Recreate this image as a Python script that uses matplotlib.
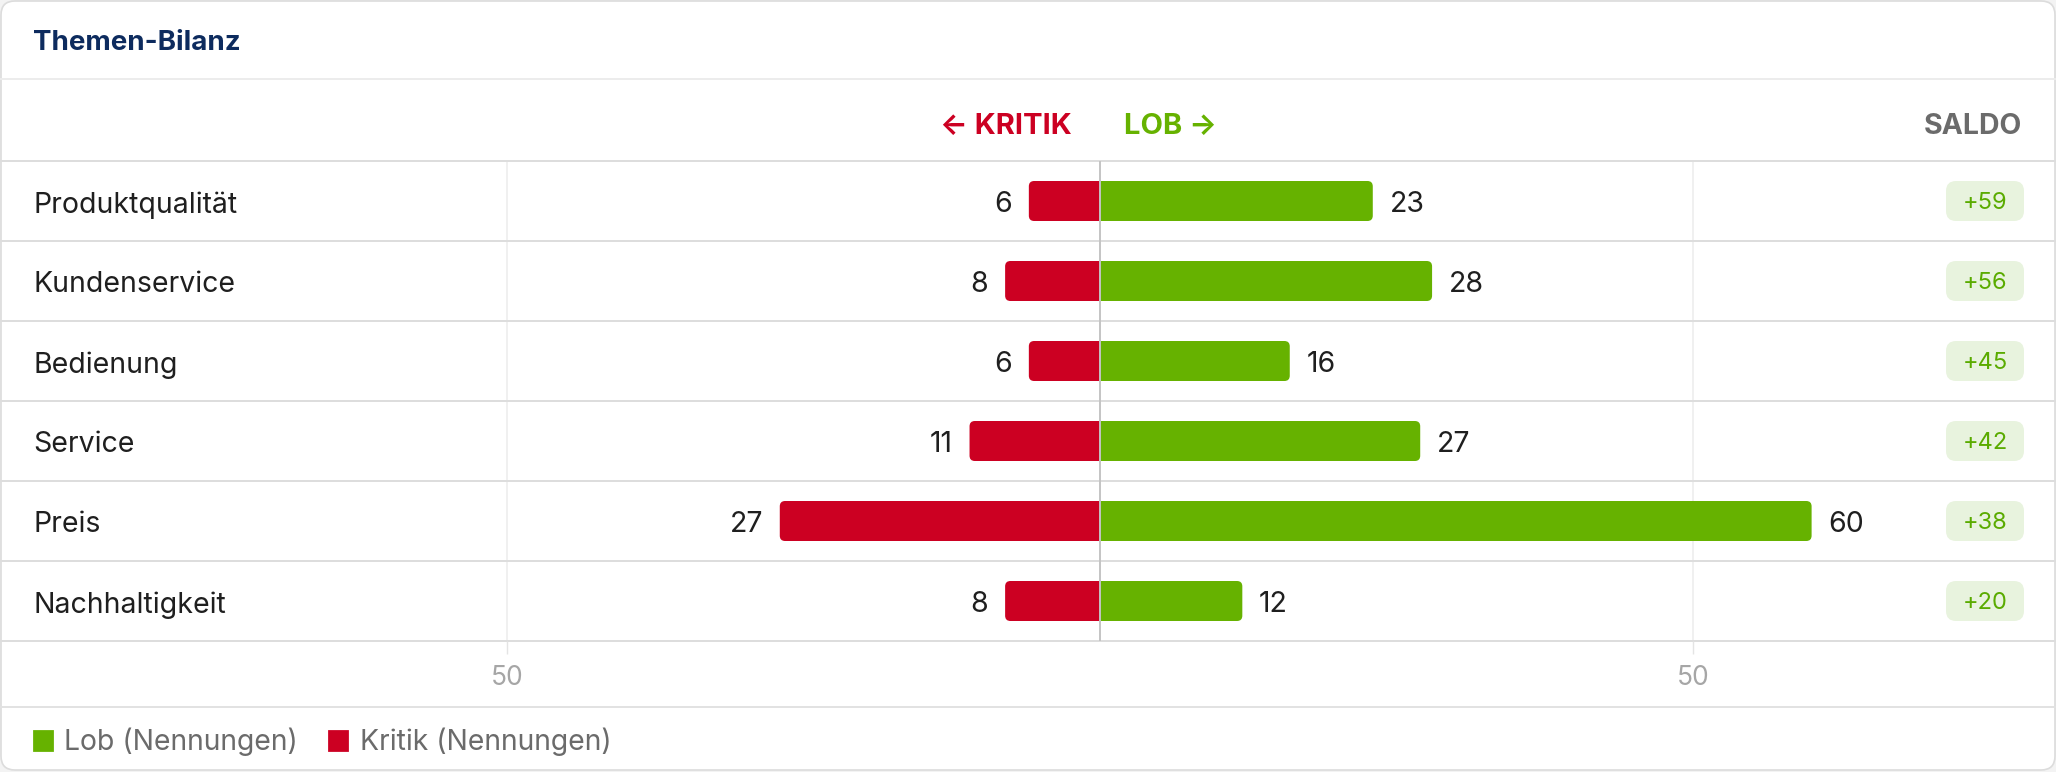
import numpy as np
import matplotlib.pyplot as plt
from matplotlib.patches import FancyBboxPatch, Rectangle, Patch
from matplotlib.lines import Line2D
from matplotlib.transforms import blended_transform_factory, IdentityTransform

plt.rcParams['font.family'] = ['Inter', 'DejaVu Sans']

# data
themen = ['Produktqualität', 'Kundenservice', 'Bedienung', 'Service', 'Preis', 'Nachhaltigkeit']
lob = [23, 28, 16, 27, 60, 12]
kritik = [6, 8, 6, 11, 27, 8]
saldo = [59, 56, 45, 42, 38, 20]
ticks = [-50, 50]
tick_labels = ['50', '50']

RED = '#cc0022'
GREEN = '#66b200'
DARK = '#1f1f1f'
GREY = '#6b6b6b'

W, H = 2056, 772
CX, PPU = 1100, 11.86   # centre pixel, pixels per unit
fig = plt.figure(figsize=(W / 100, H / 100), dpi=100)
fig.patch.set_facecolor('#f3f3f3')

# card background
card = FancyBboxPatch((1, 2), W - 2, H - 3, boxstyle='round,pad=0,rounding_size=14',
                      transform=IdentityTransform(), fc='white', ec='#dcdcdc', lw=1.2,
                      zorder=-10)
fig.patches.append(card)

fig.text(33 / W, 1 - 43 / H, 'Themen-Bilanz', fontsize=20, fontweight='bold',
         color='#0d2b5e', va='center')
fig.add_artist(Line2D([0, 1], [1 - 79 / H] * 2, color='#ececec', lw=1.4))
fig.add_artist(Line2D([0, 1], [1 - 707 / H] * 2, color='#e2e2e2', lw=1.4))

# main axes: rows area
ax = fig.add_axes([0, 1 - 641 / H, 1, 480 / H])
ax.set_facecolor('none')
ax.set_xlim(-CX / PPU, (W - CX) / PPU)
ax.set_ylim(len(themen) - 0.5, -0.5)
for s in ax.spines.values():
    s.set_visible(False)
ax.set_yticks([])
ax.set_xticks(ticks)
ax.set_xticklabels(tick_labels)
ax.tick_params(axis='x', length=9, width=1, color='#e4e4e4', pad=8.5,
               labelsize=19, labelcolor='#a6a6a6')

ax.vlines(ticks, -0.5, len(themen) - 0.5, color='#f0f0f0', lw=1.4, zorder=0)
for y in np.arange(-0.5, len(themen)):
    ax.axhline(y, color='#dddddd', lw=1.4, clip_on=False, zorder=1)

BAR_H = 0.5
ASPECT = (1 / 80) / (1 / PPU)
DY = 0.05  # text nudge down


def draw_bar(y, w, color):
    x0 = min(0, w)
    width = abs(w)
    p = FancyBboxPatch((x0, y - BAR_H / 2), width, BAR_H,
                       boxstyle='round,pad=0,rounding_size=0.45',
                       mutation_aspect=ASPECT, fc=color, ec='none', zorder=2)
    ax.add_patch(p)
    r = min(0.6, width)
    ax.add_patch(Rectangle((0 if w > 0 else -r, y - BAR_H / 2), r, BAR_H,
                           fc=color, ec='none', zorder=2))


trans = blended_transform_factory(ax.transAxes, ax.transData)
for i, name in enumerate(themen):
    draw_bar(i, -kritik[i], RED)
    draw_bar(i, lob[i], GREEN)
    ax.annotate(str(kritik[i]), xy=(-kritik[i], i + DY), xytext=(-12, 0),
                textcoords='offset points', ha='right', va='center',
                fontsize=20.5, color=DARK)
    ax.annotate(str(lob[i]), xy=(lob[i], i + DY), xytext=(12, 0),
                textcoords='offset points', ha='left', va='center',
                fontsize=20.5, color=DARK)
    ax.text(33 / W, i + DY, name, transform=trans, ha='left', va='center',
            fontsize=20.5, color=DARK)
    badge = FancyBboxPatch((1946 / W, i - 0.25), 78 / W, 0.5,
                           boxstyle='round,pad=0,rounding_size=%f' % (10 / W),
                           mutation_aspect=W / 80, transform=trans,
                           fc='#e8f3de', ec='none', clip_on=False)
    ax.add_patch(badge)
    ax.text(1985 / W, i + 0.02, '%+d' % saldo[i], transform=trans, ha='center',
            va='center', fontsize=17, color='#5aab00')

ax.axvline(0, color='#c4c4c4', lw=1.4, zorder=3)

# column headers
ax.annotate('← KRITIK', xy=(0, -0.5), xytext=(-20, 25), textcoords='offset points',
            ha='right', va='center', fontsize=21, fontweight='bold', color=RED,
            annotation_clip=False)
ax.annotate('LOB →', xy=(0, -0.5), xytext=(17, 25), textcoords='offset points',
            ha='left', va='center', fontsize=21, fontweight='bold', color=GREEN,
            annotation_clip=False)
fig.text(2022 / W, 1 - 127 / H, 'SALDO', ha='right', va='center', fontsize=20.5,
         fontweight='bold', color=GREY)

handles = [Patch(fc=GREEN, ec=GREEN, lw=2, joinstyle='round', label='Lob (Nennungen)'),
           Patch(fc=RED, ec=RED, lw=2, joinstyle='round', label='Kritik (Nennungen)')]
fig.legend(handles=handles, loc='center left', bbox_to_anchor=(34 / W, 1 - 742 / H),
           ncol=2, frameon=False, fontsize=20.4, labelcolor=GREY,
           handlelength=0.62, handleheight=0.68, handletextpad=0.45,
           columnspacing=1.1, borderpad=0, borderaxespad=0)

fig.savefig('out.png', dpi=100, facecolor=fig.get_facecolor())
